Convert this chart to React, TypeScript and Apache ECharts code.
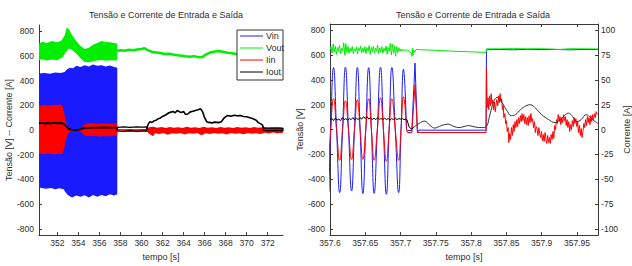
import React, { useEffect, useRef } from "react";
import * as echarts from "echarts";

type P = [number, number];

// ---------- ticks / labels ----------
const leftXTicks = [352, 354, 356, 358, 360, 362, 364, 366, 368, 370, 372];
const rightXTicks = [357.6, 357.65, 357.7, 357.75, 357.8, 357.85, 357.9, 357.95];
const rightXTickLabels = ["357.6", "357.65", "357.7", "357.75", "357.8", "357.85", "357.9", "357.95"];
const voltTicks = [-800, -600, -400, -200, 0, 200, 400, 600, 800];
const currTicks = [-100, -75, -50, -25, 0, 25, 50, 75, 100];
const legendNames = ["Vin", "Vout", "Iin", "Iout"];

// ---------- left panel ----------
const leftVinUpper: P[] = [
  [350.26, 458], [350.8, 462], [351.3, 455], [351.8, 465], [352.3, 462], [352.7, 470], [352.9, 490],
  [353.2, 505], [353.5, 500], [353.8, 520], [354.2, 510], [354.6, 525], [355.0, 515], [355.4, 530],
  [355.8, 520], [356.2, 525], [356.6, 515], [357.0, 522], [357.4, 510], [357.7, 505],
];
const leftVinLower: P[] = [
  [350.26, -465], [350.9, -475], [351.4, -468], [351.8, -478], [352.2, -470], [352.6, -480], [352.8, -505],
  [353.0, -525], [353.4, -545], [353.8, -530], [354.2, -540], [354.6, -528], [355.0, -545], [355.4, -525],
  [355.8, -540], [356.2, -525], [356.6, -535], [357.0, -520], [357.4, -530], [357.7, -520],
];
const leftVoutUpper: P[] = [
  [350.26, 700], [350.6, 715], [351.0, 705], [351.5, 720], [352.0, 710], [352.4, 725], [352.7, 765],
  [352.9, 830], [353.1, 815], [353.4, 770], [353.8, 720], [354.2, 680], [354.6, 655], [355.0, 665],
  [355.4, 690], [355.8, 705], [356.2, 720], [356.6, 712], [357.0, 710], [357.4, 705], [357.7, 700],
];
const leftVoutLower: P[] = [
  [350.26, 565], [350.5, 572], [351.0, 562], [351.5, 570], [352.0, 565], [352.5, 590], [352.8, 630],
  [353.1, 660], [353.4, 650], [353.8, 620], [354.2, 580], [354.6, 550], [355.0, 548], [355.4, 556],
  [355.8, 562], [356.2, 566], [356.6, 560], [357.0, 565], [357.4, 562], [357.7, 565],
];
const leftVoutLine: P[] = [
  [357.7, 640], [358.0, 646], [358.4, 641], [358.8, 649], [359.2, 645], [359.6, 652], [360.0, 656],
  [360.3, 662], [360.6, 646], [361.0, 632], [361.4, 628], [361.8, 624], [362.2, 615], [362.6, 618],
  [363.0, 611], [363.4, 605], [363.8, 602], [364.2, 597], [364.6, 594], [365.0, 598], [365.4, 590],
  [365.8, 592], [366.2, 615], [366.6, 630], [367.0, 636], [367.4, 640], [367.8, 632], [368.2, 626],
  [368.6, 622], [369.0, 615], [369.4, 612], [370.0, 605], [371.0, 598], [372.0, 600], [373.45, 596],
];
const leftIinUpper: P[] = [
  [350.26, 195], [350.7, 202], [351.2, 198], [351.7, 205], [352.1, 203], [352.3, 208], [352.5, 190],
  [352.7, 120], [352.9, 40], [353.1, 12], [353.5, 6], [354.0, 5], [354.3, 15], [354.5, 40], [354.8, 52],
  [355.3, 55], [355.8, 50], [356.3, 54], [356.8, 50], [357.3, 53], [357.68, 50], [357.72, 8], [358.3, 6],
  [358.9, 9], [359.5, 6], [360.1, 8], [360.5, 9], [360.7, 22], [361.1, 26], [361.5, 18], [361.9, 24],
  [362.3, 17], [362.7, 25], [363.1, 19], [363.5, 23], [363.9, 16], [364.3, 26], [364.7, 18], [365.1, 22],
  [365.5, 17], [365.9, 27], [366.3, 18], [366.7, 23], [367.1, 16], [367.5, 24], [367.9, 18], [368.3, 22],
  [368.7, 17], [369.1, 25], [369.5, 18], [369.9, 23], [370.3, 16], [370.7, 24], [371.1, 18], [371.5, 22],
  [371.9, 15], [372.3, 20], [372.7, 16], [373.1, 21], [373.45, 18],
];
const leftIinLower: P[] = [
  [350.26, -190], [350.7, -194], [351.2, -190], [351.7, -196], [352.1, -192], [352.4, -195], [352.6, -170],
  [352.8, -90], [353.0, -30], [353.3, -10], [353.8, -8], [354.2, -10], [354.4, -30], [354.6, -45],
  [355.0, -50], [355.5, -47], [356.0, -52], [356.5, -48], [357.0, -50], [357.5, -47], [357.68, -48],
  [357.72, -8], [358.3, -6], [358.9, -9], [359.5, -7], [360.1, -8], [360.5, -10], [360.7, -28], [361.1, -50],
  [361.3, -26], [361.7, -32], [362.1, -24], [362.5, -38], [362.9, -25], [363.3, -30], [363.7, -24],
  [364.1, -35], [364.5, -26], [364.9, -30], [365.3, -24], [365.7, -42], [366.1, -26], [366.5, -32],
  [366.9, -24], [367.3, -30], [367.7, -25], [368.1, -36], [368.5, -24], [368.9, -30], [369.3, -26],
  [369.7, -34], [370.1, -24], [370.5, -30], [370.9, -25], [371.3, -32], [371.7, -22], [372.1, -28],
  [372.5, -20], [372.9, -26], [373.45, -22],
];
const leftIoutStart: P[] = [
  [350.26, 55], [350.5, 58], [350.8, 53], [351.1, 57], [351.4, 54], [351.7, 58], [352.0, 55], [352.3, 57],
  [352.5, 54], [352.7, 45], [352.9, 25], [353.1, 8], [353.4, 2], [353.8, 0], [354.2, 5], [354.5, 15],
  [355.0, 18], [355.5, 20], [356.0, 19], [356.5, 21], [357.0, 20], [357.5, 19], [357.7, 15],
];
const leftIoutBand1Upper: P[] = [[357.7, 22], [358.3, 25], [358.9, 22], [359.5, 26], [360.1, 23], [360.5, 25]];
const leftIoutBand1Lower: P[] = [[357.7, -8], [358.3, -10], [358.9, -7], [359.5, -10], [360.1, -8], [360.5, -9]];
const leftIoutMid: P[] = [
  [360.5, 10], [360.65, 50], [360.8, 68], [361.0, 62], [361.2, 75], [361.4, 80], [361.6, 92], [361.8, 98],
  [362.0, 110], [362.2, 118], [362.4, 128], [362.6, 140], [362.8, 145], [363.0, 150], [363.2, 140],
  [363.4, 158], [363.6, 148], [363.8, 142], [364.0, 150], [364.2, 125], [364.4, 130], [364.6, 145],
  [364.8, 150], [365.0, 155], [365.2, 160], [365.4, 165], [365.6, 172], [365.8, 150], [366.0, 100],
  [366.2, 68], [366.4, 62], [366.7, 58], [367.0, 64], [367.3, 60], [367.6, 68], [367.8, 92], [368.0, 108],
  [368.2, 118], [368.5, 112], [368.8, 120], [369.1, 115], [369.4, 118], [369.7, 110], [370.0, 108],
  [370.3, 100], [370.6, 92], [370.9, 80], [371.1, 60], [371.3, 52], [371.5, 40], [371.6, 12],
];
const leftIoutBand2Upper: P[] = [[371.6, 18], [372.2, 15], [372.8, 18], [373.45, 14]];
const leftIoutBand2Lower: P[] = [[371.6, -3], [372.2, -5], [372.8, -2], [373.45, -4]];

// ---------- right panel ----------
const rightVinWave: P[] = [
  [357.5985, -500], [357.601, 0], [357.605, 500], [357.6093, 0], [357.6137, -508], [357.6178, 0],
  [357.6219, 502], [357.6262, 0], [357.6306, -495], [357.6347, 0], [357.6388, 500], [357.6427, 0],
  [357.6466, -516], [357.6507, 0], [357.6548, 498], [357.6587, 0], [357.6626, -513], [357.6671, 0],
  [357.6716, 502], [357.6757, 0], [357.6799, -521], [357.6838, 0], [357.6877, 500], [357.6925, 0],
  [357.6973, -508], [357.7007, 0], [357.7041, 485], [357.7085, 0],
];
const rightVinRest: P[] = [
  [357.7085, 0], [357.71, -8], [357.716, -8], [357.7205, 535], [357.724, -25], [357.726, -5],
  [357.8212, -5], [357.8218, 643], [357.84, 645], [357.86, 642], [357.88, 646], [357.9, 644],
  [357.92, 645], [357.94, 642], [357.96, 645], [357.98, 644],
];
const rightVoutNoise: P[] = [
  [357.6, 640], [357.6015, 665], [357.603, 615], [357.6045, 690], [357.606, 625], [357.6075, 672],
  [357.609, 605], [357.6105, 660], [357.612, 630], [357.6135, 680], [357.615, 610], [357.6165, 655],
  [357.618, 635], [357.6195, 700], [357.621, 600], [357.6225, 690], [357.624, 620], [357.6255, 670],
  [357.627, 615], [357.6285, 655], [357.63, 628], [357.6315, 668], [357.633, 612], [357.6345, 650],
  [357.636, 630], [357.6375, 665], [357.639, 608], [357.6405, 660], [357.642, 635], [357.6435, 672],
  [357.645, 618], [357.6465, 655], [357.648, 625], [357.6495, 668], [357.651, 612], [357.6525, 660],
  [357.654, 632], [357.6555, 675], [357.657, 605], [357.6585, 662], [357.66, 628], [357.6615, 670],
  [357.663, 615], [357.6645, 655], [357.666, 632], [357.6675, 680], [357.669, 612], [357.6705, 658],
  [357.672, 625], [357.6735, 668], [357.675, 615], [357.6765, 655], [357.678, 632], [357.6795, 672],
  [357.681, 608], [357.6825, 662], [357.684, 628], [357.6855, 695], [357.687, 600], [357.6885, 688],
  [357.69, 615], [357.6915, 672], [357.693, 590], [357.6945, 668], [357.696, 620], [357.6975, 660],
  [357.699, 630], [357.7005, 648], [357.702, 632], [357.7035, 645], [357.705, 636], [357.7065, 642],
  [357.708, 638], [357.7095, 640],
];
const rightVoutRest: P[] = [
  [357.7095, 640], [357.713, 630], [357.715, 612], [357.716, 590], [357.7168, 655], [357.7176, 598],
  [357.7186, 640], [357.72, 622], [357.722, 645], [357.73, 643], [357.75, 638], [357.77, 632],
  [357.79, 628], [357.81, 624], [357.8212, 621], [357.8218, 650], [357.84, 650], [357.86, 652],
  [357.88, 650], [357.9, 651], [357.915, 648], [357.925, 645], [357.94, 651], [357.96, 650], [357.98, 649],
];
const rightIinWave: P[] = [
  [357.5985, -31], [357.601, 0], [357.605, 31], [357.6093, 0], [357.6137, -31], [357.6178, 0],
  [357.6219, 29], [357.6262, 0], [357.6306, -30], [357.6347, 0], [357.6388, 30], [357.6427, 0],
  [357.6466, -30], [357.6507, 0], [357.6548, 31], [357.6587, 0], [357.6626, -31], [357.6671, 0],
  [357.6716, 32], [357.6757, 0], [357.6799, -32], [357.6838, 0], [357.6877, 31], [357.6925, 0],
  [357.6973, -31], [357.7007, 0], [357.7041, 33], [357.7085, 0],
];
const rightIinRest: P[] = [
  [357.7085, 0], [357.71, -3], [357.716, -3], [357.7205, 45], [357.724, -3], [357.8212, -3],
  [357.8218, 62], [357.8228, 22], [357.824, 32], [357.825, 20], [357.8262, 34], [357.8272, 24],
  [357.8285, 36], [357.8295, 26], [357.8305, 30], [357.8318, 20], [357.833, 28], [357.8342, 18],
  [357.8355, 26], [357.8365, 30], [357.8378, 24], [357.839, 34], [357.84, 27], [357.8412, 36],
  [357.8422, 28], [357.8433, 31], [357.8445, 20], [357.8455, 24], [357.8465, 12], [357.8478, 16],
  [357.849, 6], [357.85, 9], [357.8512, -2], [357.8525, 2], [357.8535, -13], [357.8548, -4],
  [357.856, -10], [357.8572, 2], [357.8585, -6], [357.8598, 5], [357.861, -2], [357.8622, 8],
  [357.8635, 2], [357.8648, 10], [357.866, 3], [357.8672, 12], [357.8685, 6], [357.8698, 14],
  [357.871, 8], [357.8722, 16], [357.8735, 9], [357.8748, 15], [357.876, 6], [357.8772, 13],
  [357.8785, 5], [357.8798, 12], [357.881, 4], [357.8822, 14], [357.8835, 7], [357.8848, 16],
  [357.886, 8], [357.8872, 11], [357.8885, 2], [357.8898, 8], [357.891, -3], [357.8922, 3],
  [357.8935, 1], [357.8948, -6], [357.896, 2], [357.8972, -4], [357.8985, -8], [357.8998, -2],
  [357.901, -11], [357.9022, -5], [357.9035, -12], [357.9048, -3], [357.906, -9], [357.9072, -14],
  [357.9085, -6], [357.9098, -13], [357.911, -8], [357.9122, -14], [357.9135, -5], [357.9148, -10],
  [357.916, -2], [357.9172, -9], [357.9185, 4], [357.9198, 0], [357.921, 10], [357.9222, 6],
  [357.9235, 15], [357.9248, 8], [357.926, 13], [357.9272, 5], [357.9285, 12], [357.9298, 7],
  [357.931, 15], [357.9322, 9], [357.9335, 13], [357.9348, 4], [357.936, 10], [357.9372, 2],
  [357.9385, 8], [357.9398, -2], [357.941, 5], [357.9422, 0], [357.9435, 9], [357.9448, 3],
  [357.946, 12], [357.9472, 6], [357.9485, 11], [357.9498, 3], [357.951, 8], [357.9522, -3],
  [357.9535, 4], [357.9548, -6], [357.956, 1], [357.9572, -8], [357.9585, -2], [357.9598, 6],
  [357.961, 2], [357.9622, 10], [357.9635, 4], [357.9648, 13], [357.966, 7], [357.9672, 12],
  [357.9685, 5], [357.9698, 14], [357.971, 8], [357.9722, 15], [357.9735, 10], [357.9748, 16],
  [357.976, 12], [357.9772, 18], [357.979, 15],
];
const rightIoutNoise: P[] = [
  [357.6, 10], [357.603, 11], [357.605, 9], [357.6075, 11.5], [357.61, 9.5], [357.6125, 10.5],
  [357.615, 9], [357.6175, 12], [357.62, 10], [357.6225, 11], [357.625, 9.5], [357.6275, 11],
  [357.63, 10], [357.6325, 12], [357.635, 9.5], [357.6375, 11.5], [357.64, 10], [357.6425, 12],
  [357.645, 10.5], [357.6475, 13], [357.65, 11], [357.6525, 13], [357.655, 10.5], [357.6575, 12],
  [357.66, 10], [357.6625, 11.5], [357.665, 10], [357.6675, 12], [357.67, 10.5], [357.6725, 11],
  [357.675, 10], [357.6775, 11.5], [357.68, 10], [357.6825, 11], [357.685, 9.5], [357.6875, 11],
  [357.69, 10], [357.6925, 11.5], [357.695, 10], [357.6975, 11], [357.7, 10.5], [357.7025, 11],
  [357.705, 10], [357.7075, 10.5], [357.709, 10], [357.7125, 2], [357.716, 0.5], [357.72, 3],
];
const rightIoutCurve: P[] = [
  [357.72, 3], [357.726, 6], [357.734, 8.5], [357.742, 4], [357.748, 1.5], [357.758, 4], [357.767, 5.5],
  [357.776, 3], [357.783, 2], [357.79, 3], [357.796, 4], [357.806, 2.5], [357.815, 2], [357.8215, 3],
  [357.827, 16], [357.832, 28], [357.837, 32.5], [357.843, 28], [357.85, 20], [357.857, 14],
  [357.863, 15], [357.87, 20], [357.878, 24], [357.884, 25], [357.892, 21], [357.9, 15], [357.91, 10],
  [357.919, 7], [357.925, 9], [357.932, 14], [357.938, 16.5], [357.944, 13], [357.95, 8], [357.956, 10],
  [357.963, 15], [357.968, 13], [357.974, 9], [357.98, 6],
];

// ---------- styles ----------
const FONT = "'Noto Sans ExtraCondensed', 'Noto Sans Condensed', 'Liberation Sans Narrow', 'Liberation Sans', Arial, sans-serif";
const BLUE = "#1a1aff";
const GREEN = "#00ee00";
const RED = "#ff0000";
const BLACK = "#000000";
const legendColors = [BLUE, GREEN, RED, BLACK];
const AXIS = "#3a3a3a";
const TEXT = "#2e2e2e";
const TICK_FS = 8.5;

function band(name: string, upper: P[], lower: P[], fill: string, stroke: string, xi: number, yi: number, lw = 0) {
  const pts = upper.concat(lower.slice().reverse());
  return {
    type: "custom",
    name,
    xAxisIndex: xi,
    yAxisIndex: yi,
    data: pts,
    encode: { x: 0, y: 1 },
    silent: true,
    renderItem: (params: any, api: any) => {
      if (params.dataIndex !== 0) return null;
      return {
        type: "polygon",
        shape: { points: pts.map((p) => api.coord(p)) },
        style: { fill, stroke, lineWidth: lw },
      };
    },
  };
}

function line(name: string, data: P[], color: string, xi: number, yi: number, width = 1, smooth: boolean | number = false) {
  return {
    type: "line",
    name,
    data,
    xAxisIndex: xi,
    yAxisIndex: yi,
    symbol: "none",
    showSymbol: false,
    smooth,
    clip: true,
    silent: true,
    lineStyle: { color, width },
    itemStyle: { color },
  };
}

function axisBase(extra: any) {
  return {
    type: "value",
    splitLine: { show: false },
    axisLine: { show: true, onZero: false, lineStyle: { color: AXIS, width: 1 } },
    axisTick: { show: true, inside: true, length: 3, lineStyle: { color: AXIS } },
    axisLabel: { fontSize: TICK_FS, color: TEXT, fontFamily: FONT },
    nameTextStyle: { fontSize: 9, color: TEXT, fontFamily: FONT },
    ...extra,
  };
}

const TITLE = "Tensão e Corrente de Entrada e Saída";

const option: any = {
  animation: false,
  backgroundColor: "#ffffff",
  textStyle: { fontFamily: FONT },
  title: [
    { text: TITLE, left: 161, top: 5, textAlign: "center", textStyle: { fontSize: 9, fontWeight: "normal", color: TEXT, fontFamily: FONT } },
    { text: TITLE, left: 468, top: 5, textAlign: "center", textStyle: { fontSize: 9, fontWeight: "normal", color: TEXT, fontFamily: FONT } },
  ],
  grid: [
    { left: 39, top: 25, width: 244, height: 217 },
    { left: 330, top: 24, width: 276, height: 219 },
  ],
  xAxis: [
    axisBase({
      gridIndex: 0, min: 350.26, max: 373.45, position: "bottom",
      name: "tempo [s]", nameLocation: "middle", nameGap: 15,
      axisTick: { show: true, inside: true, length: 3, lineStyle: { color: AXIS }, customValues: leftXTicks },
      axisLabel: { fontSize: TICK_FS, color: TEXT, fontFamily: FONT, margin: 3, customValues: leftXTicks, formatter: (v: number) => String(Math.round(v)) },
    }),
    axisBase({
      gridIndex: 1, min: 357.6, max: 357.98, position: "bottom",
      name: "tempo [s]", nameLocation: "middle", nameGap: 15,
      axisTick: { show: true, inside: true, length: 3, lineStyle: { color: AXIS }, customValues: rightXTicks },
      axisLabel: {
        fontSize: TICK_FS, color: TEXT, fontFamily: FONT, margin: 3, customValues: rightXTicks,
        formatter: (v: number) => {
          const i = rightXTicks.findIndex((t) => Math.abs(t - v) < 1e-6);
          return i >= 0 ? rightXTickLabels[i] : "";
        },
      },
    }),
    axisBase({
      gridIndex: 1, min: 357.6, max: 357.98, position: "top",
      axisTick: { show: true, inside: true, length: 3, lineStyle: { color: AXIS }, customValues: rightXTicks },
      axisLabel: { show: false, customValues: rightXTicks },
    }),
  ],
  yAxis: [
    axisBase({
      gridIndex: 0, min: -850, max: 850, position: "left",
      name: "Tensão [V] -- Corrente [A]", nameLocation: "middle", nameGap: 24, nameRotate: 90,
      axisTick: { show: true, inside: true, length: 3, lineStyle: { color: AXIS }, customValues: voltTicks },
      axisLabel: { fontSize: TICK_FS, color: TEXT, fontFamily: FONT, margin: 5, customValues: voltTicks },
    }),
    axisBase({
      gridIndex: 1, min: -850, max: 850, position: "left",
      name: "Tensão [V]", nameLocation: "middle", nameGap: 24, nameRotate: 90,
      axisTick: { show: true, inside: true, length: 3, lineStyle: { color: AXIS }, customValues: voltTicks },
      axisLabel: { fontSize: TICK_FS, color: TEXT, fontFamily: FONT, margin: 5, customValues: voltTicks },
    }),
    axisBase({
      gridIndex: 1, min: -106.25, max: 106.25, position: "right",
      name: "Corrente [A]", nameLocation: "middle", nameGap: 22, nameRotate: 90,
      axisTick: { show: true, inside: true, length: 3, lineStyle: { color: AXIS }, customValues: currTicks },
      axisLabel: { fontSize: TICK_FS, color: TEXT, fontFamily: FONT, margin: 3, customValues: currTicks },
    }),
  ],
  series: [
    // left panel
    band("Vin", leftVinUpper, leftVinLower, BLUE, "none", 0, 0),
    band("Vout", leftVoutUpper, leftVoutLower, GREEN, "none", 0, 0),
    line("Vout", leftVoutLine, GREEN, 0, 0, 2.5),
    band("Iin", leftIinUpper, leftIinLower, RED, "none", 0, 0),
    line("Iout", leftIoutStart, BLACK, 0, 0, 1.8),
    band("Iout", leftIoutBand1Upper, leftIoutBand1Lower, "none", BLACK, 0, 0, 1.2),
    line("Iout", leftIoutMid, BLACK, 0, 0, 1.6),
    band("Iout", leftIoutBand2Upper, leftIoutBand2Lower, "none", BLACK, 0, 0, 1.2),
    // right panel
    line("Vin", rightVinWave, BLUE, 1, 1, 1, 0.5),
    line("Vin", rightVinRest, BLUE, 1, 1, 1),
    line("Vout", rightVoutNoise, GREEN, 1, 1, 1),
    line("Vout", rightVoutRest, GREEN, 1, 1, 1),
    line("Iin", rightIinWave, RED, 1, 2, 1, 0.5),
    line("Iin", rightIinRest, RED, 1, 2, 1),
    line("Iout", rightIoutNoise, BLACK, 1, 2, 1),
    line("Iout", rightIoutCurve, "#333333", 1, 2, 1, 0.4),
  ],
  graphic: [
    {
      type: "rect", z: 100,
      shape: { x: 237, y: 30, width: 46, height: 50 },
      style: { fill: "#ffffff", stroke: "#333333", lineWidth: 1 },
    },
    ...legendNames.map((n, i) => ({
      type: "line", z: 101,
      shape: { x1: 240, y1: 36 + 12 * i, x2: 263, y2: 36 + 12 * i },
      style: { stroke: legendColors[i], lineWidth: 1 },
    })),
    ...legendNames.map((n, i) => ({
      type: "text", z: 101, x: 266, y: 36 + 12 * i,
      style: { text: n, fontSize: 9, fill: TEXT, fontFamily: FONT, verticalAlign: "middle", align: "left" },
    })),
  ],
};

export default function App() {
  const ref = useRef<HTMLDivElement>(null);
  useEffect(() => {
    if (!ref.current) return;
    const chart = echarts.init(ref.current, null, { renderer: "svg" });
    chart.setOption(option);
    return () => chart.dispose();
  }, []);
  return (
    <div
      ref={ref}
      style={{ position: "fixed", left: 0, top: 0, width: 632, height: 266, background: "#fff" }}
    />
  );
}
